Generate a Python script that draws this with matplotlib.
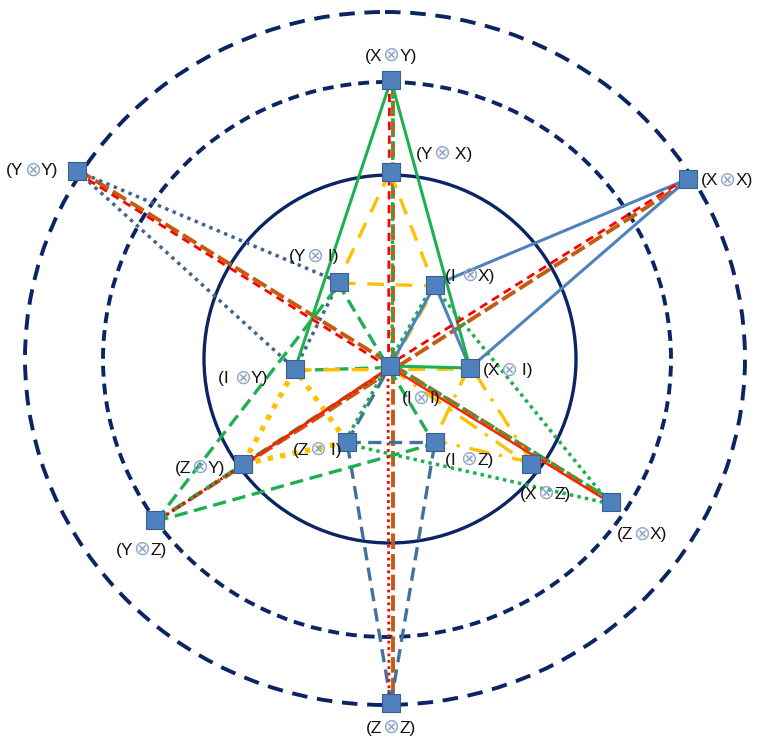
import numpy as np
import matplotlib
matplotlib.use("Agg")
import matplotlib.pyplot as plt
from matplotlib.patches import Ellipse
from matplotlib.offsetbox import TextArea, HPacker, AnnotationBbox

plt.rcParams['font.family'] = ['Liberation Sans', 'DejaVu Sans']

# nodes (positions, pixel units)
node_names = ["II", "XY", "YX", "YY", "XX", "YI", "IX", "IY", "XI",
              "ZI", "IZ", "ZY", "XZ", "YZ", "ZX", "ZZ"]
node_x = [390, 391, 391, 77, 688, 339, 435, 295, 470, 347, 435, 243, 531, 155, 611, 391]
node_y = [366, 80, 172, 171, 179, 282, 285, 369, 368, 442, 442, 464, 464, 520, 502, 703]

# labels: (left part, right part)
label_parts = {
    "II": ("(I", "I)"), "XY": ("(X", "Y)"), "YX": ("(Y", " X)"),
    "YY": ("(Y", "Y)"), "XX": ("(X", "X)"), "YI": ("(Y", " I)"),
    "IX": ("(I ", "X)"), "IY": ("(I ", "Y)"), "XI": ("(X", " I)"),
    "ZI": ("(Z", " I)"), "IZ": ("(I ", "Z)"), "ZY": ("(Z", "Y)"),
    "XZ": ("(X", "Z)"), "YZ": ("(Y", "Z)"), "ZX": ("(Z", "X)"),
    "ZZ": ("(Z", "Z)"),
}
label_pos = {
    "II": (421, 398), "XY": (391, 55), "YX": (444, 153), "YY": (32, 170),
    "XX": (727, 180), "YI": (314, 256), "IX": (470, 275), "IY": (243, 378),
    "XI": (508, 370), "ZI": (317, 449), "IZ": (469, 459), "ZY": (200, 467),
    "XZ": (545, 493), "YZ": (141, 549), "ZX": (642, 534), "ZZ": (391, 727),
}

# edges grouped by line style
blue_solid = [("XX", "IX"), ("XX", "XI"), ("IX", "XI"), ("IX", "II")]
green_solid = [("XY", "IY"), ("XY", "XI"), ("II", "XI")]
yellow_dashed = [("YX", "YI"), ("YX", "IX"), ("YI", "IX"), ("II", "IX"), ("IY", "XI")]
yellow_dashdot = [("XZ", "XI"), ("XZ", "IZ"), ("XI", "IZ"), ("II", "XZ")]
slate_dotted = [("YY", "YI"), ("YY", "IY"), ("YI", "IY")]
green_dashed = [("YZ", "YI"), ("YZ", "IZ"), ("YI", "IZ"), ("YZ", "II"), ("IY", "II")]
green_dotted = [("ZX", "ZI"), ("ZX", "IX"), ("ZI", "IX"), ("XY", "II"), ("II", "ZX")]
yellow_dotted = [("ZY", "ZI"), ("ZY", "IY"), ("ZI", "IY")]
blue_dashed = [("ZZ", "ZI"), ("ZZ", "IZ"), ("ZI", "IZ"), ("ZI", "II")]
brown_dashed = [("YY", "ZX"), ("XX", "YZ"), ("XY", "ZZ")]
red_dashed = [("YY", "II"), ("XX", "II"), ("XY", "II")]
red_dotted = [("YZ", "II"), ("II", "ZZ")]
red_solid = [("ZY", "II"), ("II", "ZX")]

# (edges, colour, linewidth, dashes, offset px)
styles = [
    (brown_dashed, "#C55A11", 2.8, (4, 1.3), -1.5),
    (blue_dashed, "#41719C", 2.4, (4, 2.2), 0),
    (slate_dotted, "#44648C", 2.5, (1, 1.3), 0),
    (green_dashed, "#1DB050", 2.4, (4, 2), 1.5),
    (green_dotted, "#1DB050", 2.5, (1, 1.2), -2),
    (yellow_dotted, "#FFC000", 3.8, (1, 1.4), 0),
    (yellow_dashed, "#FFC000", 2.4, (5, 3.5), 1),
    (yellow_dashdot, "#FFC000", 2.4, (6, 3, 1, 3), 1.5),
    (blue_solid, "#4F81BD", 2.2, None, 0),
    (green_solid, "#1DB050", 2.2, None, 0),
    (red_dashed, "#FF0000", 2.0, (3, 2), 1.5),
    (red_dotted, "#FF0000", 2.0, (1, 1.3), 2),
    (red_solid, "#FF2000", 1.7, None, 1),
]

fig = plt.figure(figsize=(7.57, 7.38), dpi=100)
ax = fig.add_axes([0, 0, 1, 1])
ax.set_xlim(0, 757)
ax.set_ylim(738, 0)
ax.axis("off")

navy = "#0B2464"
ax.add_patch(Ellipse((390, 359), 372, 368, fill=False, ec=navy, lw=2.4))
ax.add_patch(Ellipse((387, 359.5), 568, 555, fill=False, ec=navy, lw=2.8,
                     ls=(0, (2.8, 1.8))))
ax.add_patch(Ellipse((385, 358.5), 720, 693, fill=False, ec=navy, lw=2.8,
                     ls=(0, (4.0, 2.5))))

pos = {n: (x, y) for n, x, y in zip(node_names, node_x, node_y)}

for edges, color, lw, dashes, off in styles:
    for a, b in edges:
        (x0, y0), (x1, y1) = pos[a], pos[b]
        d = np.hypot(x1 - x0, y1 - y0)
        nx, ny = -(y1 - y0) / d * off, (x1 - x0) / d * off
        ls = "-" if dashes is None else (0, dashes)
        ax.plot([x0 + nx, x1 + nx], [y0 + ny, y1 + ny], color=color, lw=lw,
                ls=ls, solid_capstyle="butt", dash_capstyle="butt", zorder=3)

ax.scatter(node_x, node_y, s=150, marker="s", color="#4F81BD",
           edgecolor="#3A5F8F", linewidth=0.8, zorder=5)

for n in node_names:
    left, right = label_parts[n]
    box = HPacker(children=[
        TextArea(left, textprops=dict(fontsize=12.5, color="#111111")),
        TextArea("\u2297", textprops=dict(fontsize=14.5, color="#8FA8C8",
                                          family=["DejaVu Sans"])),
        TextArea(right, textprops=dict(fontsize=12.5, color="#111111")),
    ], align="baseline", pad=0, sep=0)
    ab = AnnotationBbox(box, label_pos[n], frameon=False, box_alignment=(0.5, 0.5),
                        zorder=6)
    ax.add_artist(ab)

fig.savefig("out.png", dpi=100)
